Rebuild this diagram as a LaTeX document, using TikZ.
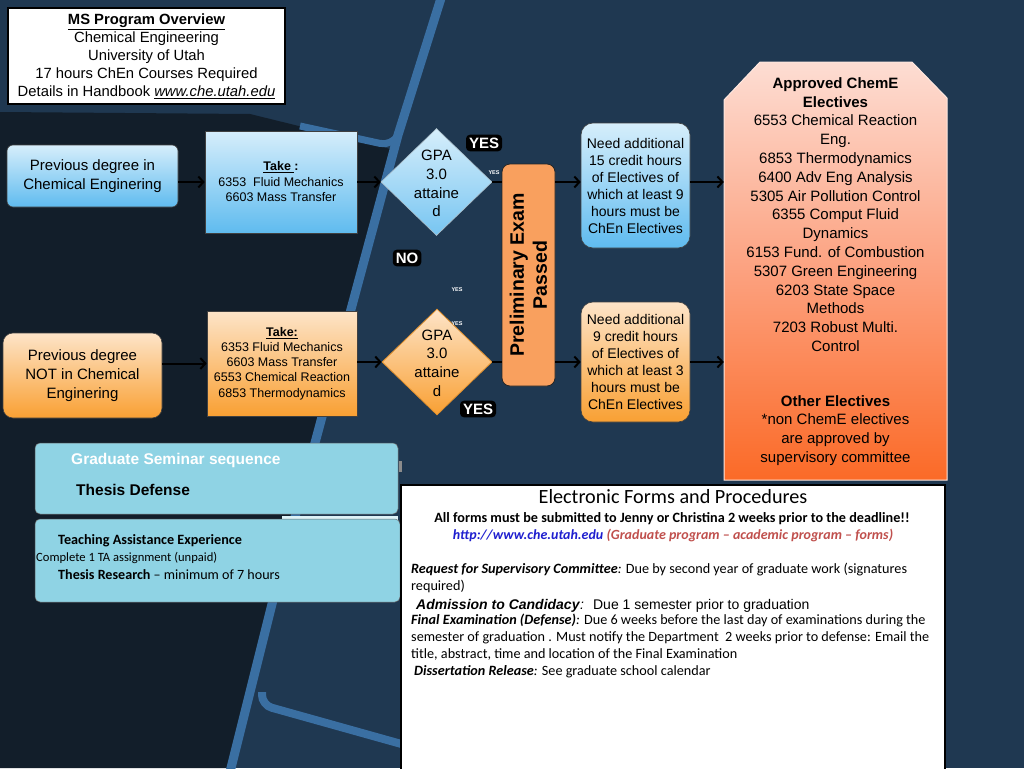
\documentclass[tikz,border=0pt]{standalone}
\usepackage{fontspec}
\setmainfont{Liberation Sans}
\newfontfamily\calib{Carlito}
\usetikzlibrary{shapes.geometric,arrows.meta}
\definecolor{bgmid}{HTML}{1F3851}
\definecolor{bgdark}{HTML}{121E2A}
\definecolor{stripe}{HTML}{3A6FA2}
\definecolor{lbtop}{HTML}{D6EEFB}
\definecolor{lbbot}{HTML}{5FBBEF}
\definecolor{ortop}{HTML}{FDE4C8}
\definecolor{orbot}{HTML}{F9A033}
\definecolor{prelimc}{HTML}{F9A05E}
\definecolor{eltop}{HTML}{FDDDD3}
\definecolor{elmid}{HTML}{FCA17F}
\definecolor{elbot}{HTML}{FB6A27}
\definecolor{semc}{HTML}{8FD3E4}
\definecolor{urlblue}{HTML}{1F1FCF}
\definecolor{urlred}{HTML}{C0504D}
\tikzset{
  arr/.style={line width=2pt, -{Straight Barb[length=5pt,width=11pt]}},
  conn/.style={line width=2pt},
  bluebox/.style={draw=black!75, line width=0.6pt, top color=lbtop, bottom color=lbbot, align=center, inner sep=0pt},
  orbox/.style={draw=black!75, line width=0.6pt, top color=ortop, bottom color=orbot, align=center, inner sep=0pt},
  lab/.style={fill=black, rounded corners=4pt, text=white, font=\fontsize{15}{18}\selectfont\bfseries, inner sep=3pt},
  tinylab/.style={text=white, font=\fontsize{5.5}{6}\selectfont\bfseries, inner sep=0pt},
  semibox/.style={fill=semc, draw=black!60, line width=0.5pt, rounded corners=5pt, inner sep=0pt},
  mid/.style={font=\fontsize{15}{18}\selectfont, align=center},
  formline/.style={anchor=base west, inner sep=0pt, font=\calib\fontsize{14.2}{17}\selectfont},
}
\begin{document}
\begin{tikzpicture}[x=1pt,y=-1pt]
\useasboundingbox (0,0) rectangle (1024,768);
% background
\fill[bgmid] (0,0) rectangle (1024,768);
\fill[bgdark] (0,112) -- (250,114) -- (380,146) -- (393,150) -- (276,580) -- (228,768) -- (0,768) -- cycle;
\draw[stripe, line width=9pt, line join=round] (442,-5) -- (398,135) -- (278,580) -- (230,772);
\draw[stripe, line width=7pt, rounded corners=12pt] (300,126) -- (392,146) -- (398,135);
\draw[stripe, line width=8pt, rounded corners=10pt] (262,692) -- (262,705) -- (405,745);
\fill[black!45] (399,461) rectangle (402,472);
\fill[white!70!semc] (282,516) rectangle (398,521);

% title box
\node[draw=black, line width=1.2pt, fill=white, minimum width=277pt, minimum height=96pt, align=center, inner sep=0pt,
  font=\fontsize{14.8}{18}\selectfont] (title) at (146.5,56)
  {\underline{\textbf{MS Program Overview}}\\Chemical Engineering\\University of Utah\\17 hours ChEn Courses Required\\Details in Handbook \underline{\textit{www.che.utah.edu}}};

% row 1
\node[bluebox, rounded corners=6pt, minimum width=171pt, minimum height=62pt, font=\fontsize{15}{19}\selectfont] (prev1) at (92.5,176) {Previous degree in\\Chemical Enginering};
\node[bluebox, minimum width=152pt, minimum height=102pt, font=\fontsize{12.5}{15.5}\selectfont] (take1) at (281,182) {\underline{\textbf{Take }}\textbf{:}\\6353~ Fluid Mechanics\\6603 Mass Transfer};
\node[diamond, draw=lbtop!80!black, line width=0.6pt, top color=lbtop, bottom color=lbbot!85!white, minimum width=111pt, minimum height=107pt, inner sep=0pt] (dia1) at (436.5,182) {};
\node[mid, font=\fontsize{15}{18.7}\selectfont] (dia1t) at (436.5,183.5) {GPA\\3.0\\attaine\\d};
\node[bluebox, rounded corners=12pt, minimum width=109pt, minimum height=125pt, font=\fontsize{14}{17}\selectfont] (need1) at (635.5,185.5) {Need additional\\15 credit hours\\of Electives of\\which at least 9\\hours must be\\ChEn Electives};

% row 2
\node[orbox, rounded corners=10pt, minimum width=159pt, minimum height=85pt, font=\fontsize{15}{19}\selectfont] (prev2) at (82.5,375.5) {Previous degree\\NOT in Chemical\\Enginering};
\node[orbox, minimum width=150pt, minimum height=105pt, font=\fontsize{12.5}{15.2}\selectfont] (take2) at (282,363.5) {\underline{\textbf{Take:}}\\6353 Fluid Mechanics\\6603 Mass Transfer\\6553 Chemical Reaction\\6853 Thermodynamics};
\node[diamond, draw=orbot!90!black, line width=0.8pt, top color=ortop, bottom color=orbot, minimum width=110pt, minimum height=106pt, inner sep=0pt] (dia2) at (437,362) {};
\node[mid, font=\fontsize{15}{18.7}\selectfont] (dia2t) at (437,363) {GPA\\3.0\\attaine\\d};
\node[orbox, rounded corners=12pt, minimum width=109pt, minimum height=120pt, font=\fontsize{14}{17}\selectfont] (need2) at (635.5,362) {Need additional\\9 credit hours\\of Electives of\\which at least 3\\hours must be\\ChEn Electives};

% preliminary exam
\node[draw=black!85, line width=0.8pt, fill=prelimc, rounded corners=8pt, minimum width=53pt, minimum height=222pt, inner sep=0pt] (prelim) at (528.5,275) {};
\node[rotate=90, align=center, font=\fontsize{19.5}{23}\selectfont\bfseries] (prelimt) at (528.5,275) {Preliminary Exam\\Passed};

% electives
\node[minimum width=223pt, minimum height=418pt, inner sep=0pt] (elec) at (835.5,271) {};
\path[top color=eltop, bottom color=elbot, middle color=elmid, draw=white!75!elmid, line width=1pt]
  (724,100) -- (760,62) -- (912,62) -- (947,98) -- (947,480) -- (724,480) -- cycle;
\node[mid, font=\fontsize{15}{18.8}\selectfont] (elect1) at (835.5,214.5) {\textbf{Approved ChemE}\\\textbf{Electives}\\6553 Chemical Reaction\\Eng.\\6853 Thermodynamics\\6400 Adv Eng Analysis\\5305 Air Pollution Control\\6355 Comput Fluid\\Dynamics\\6153 Fund. of Combustion\\5307 Green Engineering\\6203 State Space\\Methods\\7203 Robust Multi.\\Control};
\node[mid, font=\fontsize{15}{18.8}\selectfont] (elect2) at (835.5,430.5) {\textbf{Other Electives}\\*non ChemE electives\\are approved by\\supervisory committee};

% labels
\node[lab] (yes1) at (484,143) {YES};
\node[lab] (no1) at (407,258) {NO};
\node[lab] (yes2) at (478,409) {YES};
\node[tinylab] (ys1) at (494,173) {YES};
\node[tinylab] (ys2) at (457,290) {YES};
\node[tinylab] (ys3) at (457,324) {YES};

% connectors row 1
\draw[arr] (prev1.east |- take1.west) -- (take1.west);
\draw[arr] (take1.east) -- (dia1.west);
\draw[conn] (dia1.east) -- (prelim.west |- dia1.east);
\draw[arr] (prelim.east |- dia1.east) -- (need1.west |- dia1.east);
\draw[arr] (need1.east |- dia1.east) -- (elec.west |- dia1.east);
% connectors row 2
\draw[arr] (prev2.east |- take2.west) -- (take2.west);
\draw[arr] (take2.east |- dia2.west) -- (dia2.west);
\draw[conn] (dia2.east) -- (prelim.west |- dia2.east);
\draw[arr] (prelim.east |- dia2.east) -- (need2.west |- dia2.east);
\draw[arr] (need2.east |- dia2.east) -- (elec.west |- dia2.east);

% seminar boxes
\node[semibox, minimum width=363pt, minimum height=71pt] (sem) at (216.5,478.5) {};
\node[anchor=west, inner sep=0pt, text=white, font=\fontsize{15.5}{17}\selectfont\bfseries] (semt1) at (71,460) {Graduate Seminar sequence};
\node[anchor=west, inner sep=0pt, font=\fontsize{15.5}{17}\selectfont\bfseries] (semt2) at (76,490) {Thesis Defense};
\node[semibox, minimum width=365pt, minimum height=83pt] (ta) at (217.5,560.5) {};
\node[anchor=west, inner sep=0pt, font=\calib\fontsize{14.2}{16}\selectfont\bfseries] (tat1) at (58,541) {Teaching Assistance Experience};
\node[anchor=west, inner sep=0pt, font=\calib\fontsize{12.6}{16}\selectfont] (tat2) at (36,558) {Complete 1 TA assignment (unpaid)};
\node[anchor=west, inner sep=0pt, font=\calib\fontsize{14.1}{16}\selectfont] (tat3) at (58,575) {\textbf{Thesis Research} – minimum of 7 hours};

% forms box
\node[draw=black, line width=2pt, fill=white, minimum width=544pt, minimum height=290pt, inner sep=0pt] (forms) at (673,630) {};
\node[anchor=base, inner sep=0pt, font=\calib\fontsize{20.2}{22}\selectfont] (ft) at (673,503) {Electronic Forms and Procedures};
\node[anchor=base, inner sep=0pt, font=\calib\fontsize{14.2}{15}\selectfont\bfseries] (f1) at (672,522) {All forms must be submitted to Jenny or Christina 2 weeks prior to the deadline!!};
\node[anchor=base, inner sep=0pt, font=\calib\fontsize{14}{15}\selectfont\bfseries\itshape] (f2) at (673,539) {\textcolor{urlblue}{http://www.che.utah.edu} \textcolor{urlred}{(Graduate program – academic program – forms)}};
\node[formline] (f3) at (411,573) {\textbf{\textit{Request for Supervisory Committee}}\textit{:} Due by second year of graduate work (signatures};
\node[formline] (f4) at (411,590) {required)};
\node[formline, font=\fontsize{14}{17}\selectfont] (f5) at (416,609) {\textbf{\textit{Admission to Candidacy}}\textit{:}~ Due 1 semester prior to graduation};
\node[formline] (f6) at (411,624) {\textbf{\textit{Final Examination (Defense)}}\textit{:} Due 6 weeks before the last day of examinations during the};
\node[formline] (f7) at (411,641) {semester of graduation . Must notify the Department~ 2 weeks prior to defense: Email the};
\node[formline] (f8) at (411,658) {title, abstract, time and location of the Final Examination};
\node[formline] (f9) at (414,675) {\textbf{\textit{Dissertation Release}}\textit{:} See graduate school calendar};
\end{tikzpicture}
\end{document}
